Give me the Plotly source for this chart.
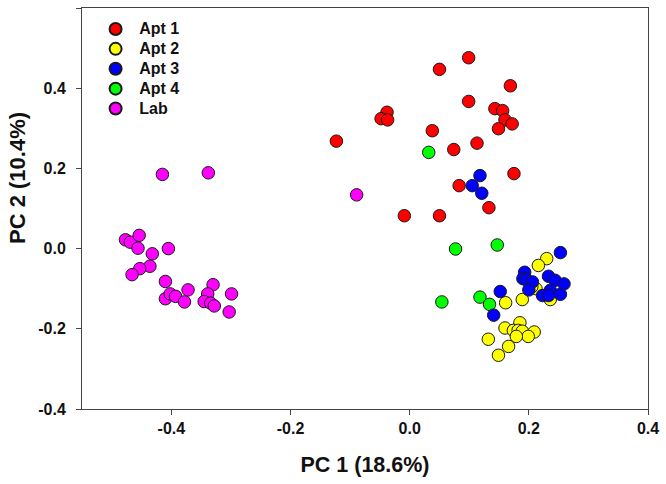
import plotly.graph_objects as go

# ---- data (PC1, PC2) ----
apt1_x = [0.099, 0.050, 0.169, 0.099, -0.038, -0.048, -0.037, 0.143, 0.156, 0.160, 0.172,
          0.149, 0.038, -0.123, 0.113, 0.074, 0.175, 0.083, 0.133, -0.009, 0.050]
apt1_y = [0.476, 0.447, 0.406, 0.367, 0.340, 0.324, 0.321, 0.349, 0.344, 0.321, 0.311,
          0.299, 0.294, 0.268, 0.263, 0.247, 0.187, 0.157, 0.102, 0.082, 0.082]

apt2_x = [0.230, 0.216, 0.212, 0.205, 0.236, 0.189, 0.161, 0.185, 0.160, 0.174, 0.182,
          0.189, 0.209, 0.199, 0.179, 0.132, 0.166, 0.149]
apt2_y = [-0.025, -0.042, -0.100, -0.095, -0.127, -0.127, -0.135, -0.185, -0.198, -0.204, -0.204,
          -0.206, -0.208, -0.219, -0.219, -0.226, -0.244, -0.266]

apt3_x = [0.118, 0.105, 0.121, 0.253, 0.193, 0.190, 0.196, 0.206, 0.200, 0.233, 0.244,
          0.259, 0.236, 0.223, 0.233, 0.253, 0.152, 0.141]
apt3_y = [0.182, 0.157, 0.138, -0.010, -0.059, -0.075, -0.078, -0.083, -0.103, -0.069, -0.079,
          -0.088, -0.104, -0.117, -0.117, -0.114, -0.107, -0.166]

apt4_x = [0.032, 0.077, 0.147, 0.054, 0.118, 0.134]
apt4_y = [0.240, -0.001, 0.009, -0.133, -0.121, -0.139]

lab_x = [-0.089, -0.415, -0.338, -0.477, -0.469, -0.454, -0.456, -0.432, -0.405, -0.436,
         -0.453, -0.466, -0.410, -0.410, -0.402, -0.393, -0.372, -0.378, -0.330, -0.339,
         -0.345, -0.334, -0.328, -0.299, -0.303]
lab_y = [0.134, 0.185, 0.189, 0.022, 0.016, 0.033, 0.001, -0.013, 0.000, -0.044,
         -0.050, -0.065, -0.082, -0.125, -0.113, -0.119, -0.103, -0.133, -0.090, -0.113,
         -0.132, -0.136, -0.143, -0.113, -0.158]

x_ticks = [-0.4, -0.2, 0.0, 0.2, 0.4]
x_tick_labels = ["-0.4", "-0.2", "0.0", "0.2", "0.4"]
y_ticks = [-0.4, -0.2, 0.0, 0.2, 0.4, 0.6]
y_tick_labels = ["-0.4", "-0.2", "0.0", "0.2", "0.4", "0.6"]

series = [
    ("Apt 1", apt1_x, apt1_y, "#FF0000", 1),
    ("Apt 2", apt2_x, apt2_y, "#FFFF00", 2),
    ("Apt 4", apt4_x, apt4_y, "#00FF00", 4),
    ("Lab", lab_x, lab_y, "#FF00FF", 5),
    ("Apt 3", apt3_x, apt3_y, "#0000FF", 3),
]

fig = go.Figure()
for name, xs, ys, col, rank in series:
    fig.add_trace(go.Scatter(
        x=xs, y=ys, mode="markers",
        name="\u00a0<span style='font-size:16px'>" + name + "</span>",
        legendrank=rank,
        marker=dict(size=12.5, color=col, line=dict(color="#1a1a1a", width=1)),
    ))

font = "Liberation Sans, Arial, sans-serif"
axis_common = dict(
    showgrid=False, zeroline=False, showline=True, linecolor="#444444", linewidth=1,
    mirror=True, ticks="outside", ticklen=5, tickcolor="#444444", tickwidth=1,
    tickfont=dict(family=font, size=16, color="#111111", weight="bold"),
)
fig.update_layout(
    width=666, height=484,
    margin=dict(l=82, r=13, t=7, b=75),
    paper_bgcolor="white", plot_bgcolor="white",
    xaxis=dict(range=[-0.55, 0.4], tickvals=x_ticks, ticktext=x_tick_labels, **axis_common,
               title=dict(text="PC 1 (18.6%)", standoff=20,
                          font=dict(family=font, size=21.5, color="#111111", weight="bold"))),
    yaxis=dict(range=[-0.4, 0.6], tickvals=y_ticks, ticktext=y_tick_labels,
               ticklabelstandoff=7, **axis_common),
    legend=dict(x=0.024, y=0.985, xanchor="left", yanchor="top",
                bgcolor="rgba(0,0,0,0)", itemsizing="constant",
                font=dict(family=font, size=13, color="#111111", weight="bold"),
                tracegroupgap=0),
    showlegend=True,
    annotations=[dict(text="PC 2 (10.4%)", xref="paper", yref="paper",
                      x=-0.1138, y=0.575, xanchor="center", yanchor="middle",
                      textangle=-90, showarrow=False,
                      font=dict(family=font, size=22, color="#111111", weight="bold"))],
)
fig.write_html("out.html", config={"displayModeBar": False},
               post_script="document.body.style.margin='0px';")
